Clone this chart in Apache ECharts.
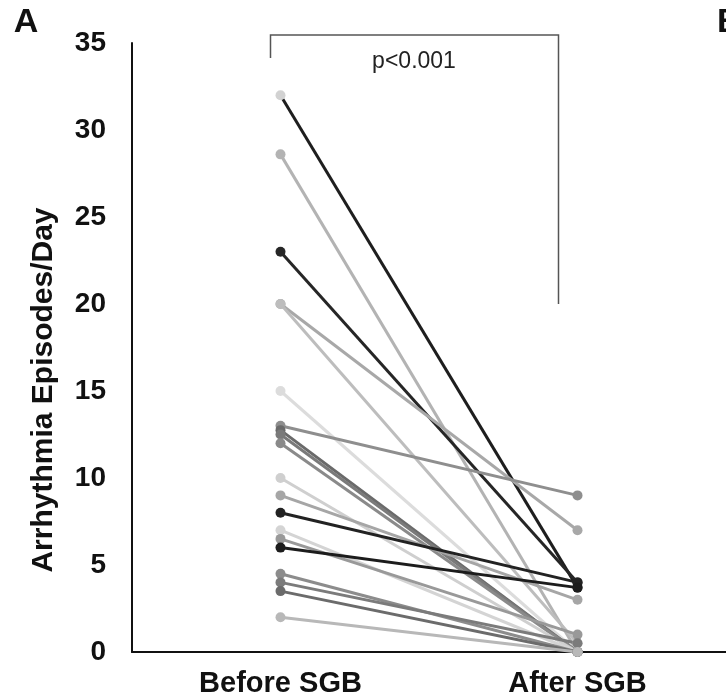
<!DOCTYPE html>
<html><head><meta charset="utf-8">
<script src="https://cdn.jsdelivr.net/npm/echarts@6/dist/echarts.min.js"></script>
<style>html,body{margin:0;padding:0;background:#fff}#c{width:726px;height:700px}</style>
</head><body><div id="c"></div>
<script>
var categories = ['Before SGB', 'After SGB'];
var yTicks = [0, 5, 10, 15, 20, 25, 30, 35];
var beforeValues = [32, 28.6, 23, 20, 20, 15, 13, 12.75, 12.5, 12, 10, 9, 8, 7, 6.5, 6, 4.5, 4, 3.5, 2];
var afterValues  = [3.7, 0, 4, 7, 0.5, 0, 9, 0, 0, 0, 0, 3, 4, 0, 1, 3.7, 0, 0.5, 0, 0];
var subjectShade = ['#1e1e1e','#b3b3b3','#262626','#a8a8a8','#bdbdbd','#dcdcdc','#8e8e8e','#6a6a6a','#7a7a7a','#8a8a8a',
                    '#cfcfcf','#a6a6a6','#222222','#d4d4d4','#999999','#1c1c1c','#8c8c8c','#7b7b7b','#6b6b6b','#b8b8b8'];
var yTitle = 'Arrhythmia Episodes/Day';
var pText = 'p<0.001';

var chart = echarts.init(document.getElementById('c'), null, {renderer: 'canvas'});
var series = beforeValues.map(function (b, i) {
  var first = (i === 0) ? {value: b, itemStyle: {color: '#d2d2d2'}} : b;
  return {
    type: 'line', data: [first, afterValues[i]],
    symbol: 'circle', symbolSize: 10,
    lineStyle: {color: subjectShade[i], width: 3},
    itemStyle: {color: subjectShade[i]},
    z: 2, animation: false
  };
});
chart.setOption({
  animation: false,
  grid: {left: 132, right: -6, top: 43, bottom: 48, containLabel: false},
  xAxis: {
    type: 'category', data: categories, boundaryGap: true,
    axisLine: {lineStyle: {color: '#111', width: 2}},
    axisTick: {show: false},
    axisLabel: {color: '#111', fontSize: 29, fontWeight: 'bold', fontFamily: 'Liberation Sans, Arial', margin: 17}
  },
  yAxis: {
    type: 'value', min: yTicks[0], max: yTicks[yTicks.length - 1], interval: 5,
    axisLine: {show: true, lineStyle: {color: '#111', width: 2}},
    axisTick: {show: false}, splitLine: {show: false},
    axisLabel: {color: '#111', fontSize: 28, fontWeight: 'bold', fontFamily: 'Liberation Sans, Arial', margin: 26}
  },
  series: series
});

var xB = chart.convertToPixel({xAxisIndex: 0}, categories[0]);
var xA = chart.convertToPixel({xAxisIndex: 0}, categories[1]);
var yTop = chart.convertToPixel({yAxisIndex: 0}, 35) - 8;
var yEnd = chart.convertToPixel({yAxisIndex: 0}, 20);
chart.setOption({
  graphic: [
    {type: 'polyline', shape: {points: [[xB - 10, yTop + 23], [xB - 10, yTop], [xA - 19, yTop], [xA - 19, yEnd]]},
     style: {stroke: '#555', lineWidth: 1.5, fill: null}, silent: true},
    {type: 'text', x: (xB + xA) / 2 - 15, y: yTop + 27,
     style: {text: pText, fontSize: 23, fontFamily: 'Liberation Sans, Arial', fill: '#222', textAlign: 'center', textVerticalAlign: 'middle'}},
    {type: 'text', x: 44, y: 390, rotation: Math.PI / 2,
     style: {text: yTitle, fontSize: 30, fontWeight: 'bold', fontFamily: 'Liberation Sans, Arial', fill: '#111', textAlign: 'center', textVerticalAlign: 'middle'}},
    {type: 'text', x: 26, y: 23,
     style: {text: 'A', fontSize: 34, fontWeight: 'bold', fontFamily: 'Liberation Sans, Arial', fill: '#111', textAlign: 'center', textVerticalAlign: 'middle'}},
    {type: 'text', x: 717, y: 23,
     style: {text: 'B', fontSize: 34, fontWeight: 'bold', fontFamily: 'Liberation Sans, Arial', fill: '#111', textAlign: 'left', textVerticalAlign: 'middle'}}
  ]
});
</script></body></html>
